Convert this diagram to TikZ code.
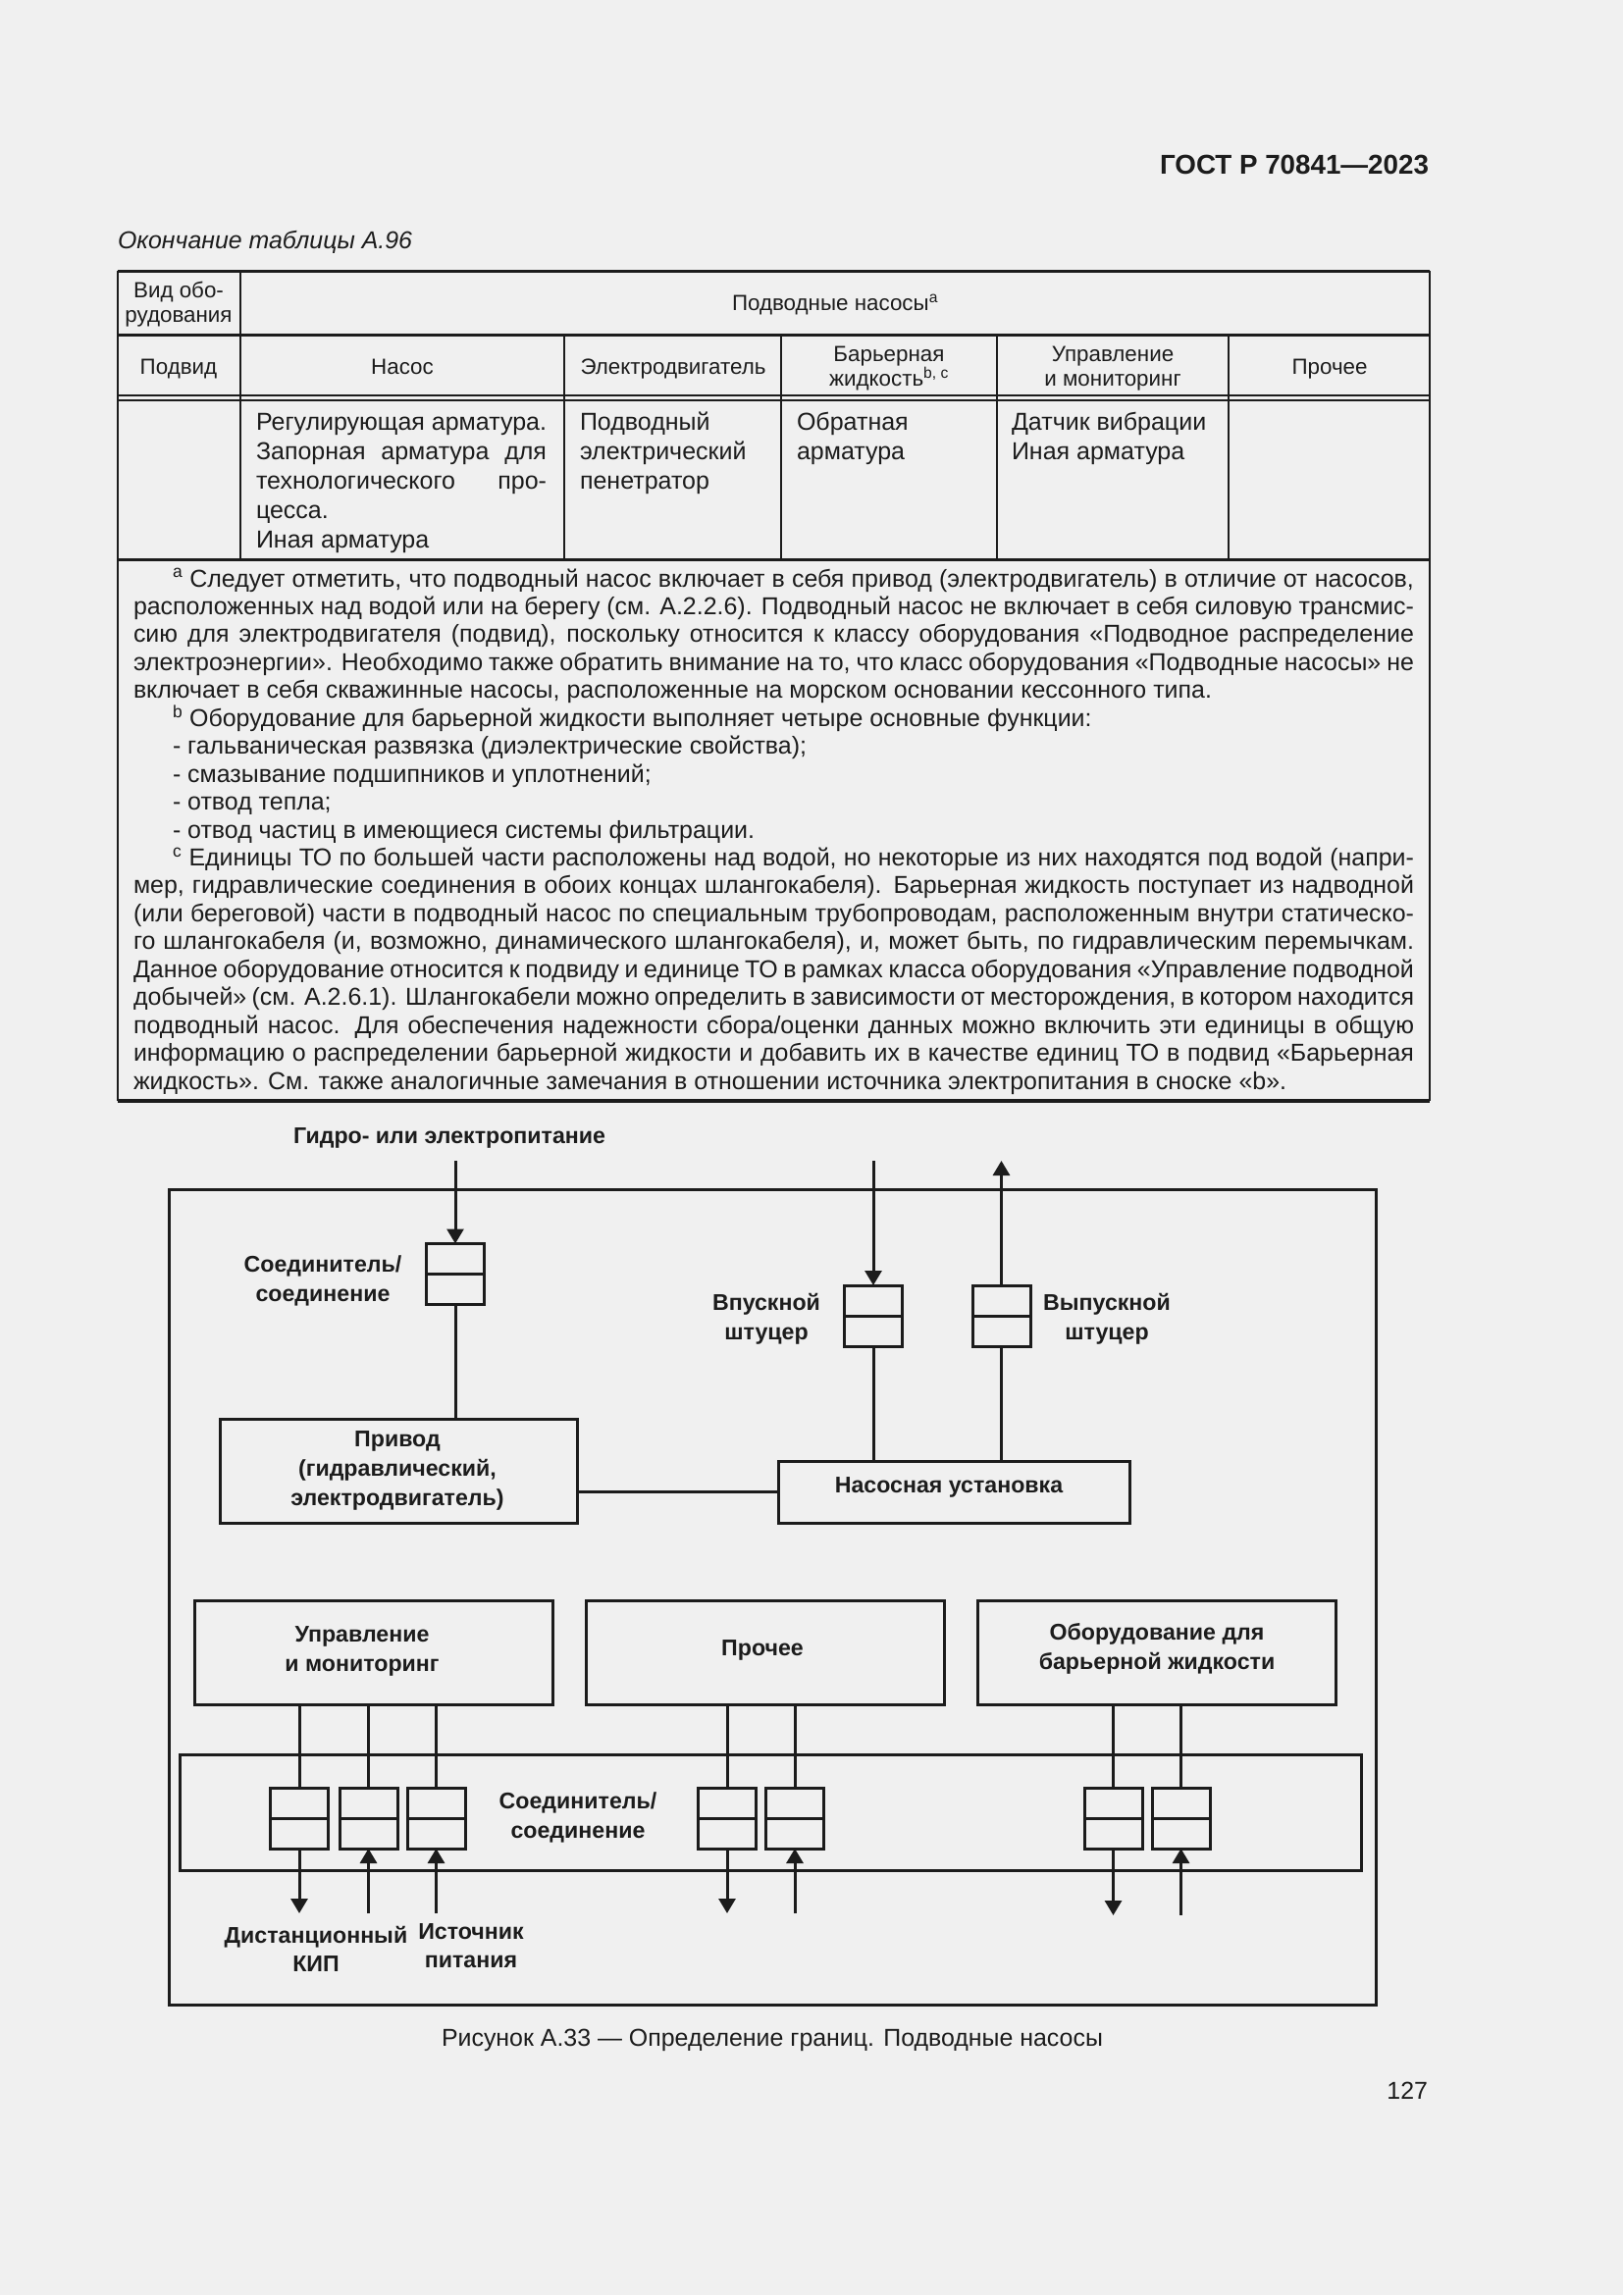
\documentclass[tikz,border=0pt]{standalone}
\usepackage{fontspec}
\setmainfont{Liberation Sans}
\usetikzlibrary{arrows.meta}
\definecolor{bgc}{RGB}{240,240,240}
\definecolor{ink}{RGB}{28,28,28}
\makeatletter
\newlength\calw
\newcommand\calsize[3]{%
  \settowidth\calw{\fontsize{10pt}{12pt}\selectfont #3}%
  \ifdim\calw<1pt \global\calw=100pt\fi
  \xdef#1{\strip@pt\dimexpr 10pt*\numexpr #2*65536\relax/\calw\relax}}
\makeatother
\newcommand\fnl[1]{\hbox to 1305pt{#1}}
\newcommand\jcl[1]{\hbox to 296pt{#1}}
\calsize\szNote{1099}{включает в себя скважинные насосы, расположенные на морском основании кессонного типа.}
\calsize\szCell{296}{Регулирующая арматура.}
\calsize\szHead{189}{Электродвигатель}
\calsize\szGost{274}{\bfseries ГОСТ Р 70841—2023}
\calsize\szIt{300}{\itshape Окончание таблицы А.96}
\calsize\szDiag{318}{\bfseries Гидро- или электропитание}
\calsize\szCap{674}{Рисунок А.33 — Определение границ. Подводные насосы}
\begin{document}
\begin{tikzpicture}[x=1pt,y=-1pt,
  every node/.style={inner sep=0pt,outer sep=0pt,text=ink},
  tv/.style={draw=ink,line width=2pt},
  th/.style={draw=ink,line width=3pt},
  tthin/.style={draw=ink,line width=1.6pt},
  hd/.style={font=\fontsize{\szHead}{25}\selectfont,anchor=base},
  cell/.style={font=\fontsize{\szCell}{30}\selectfont,anchor=base west},
  fnote/.style={font=\fontsize{\szNote}{28.45}\selectfont,anchor=base west},
  dlbl/.style={font=\fontsize{\szDiag}{30}\selectfont\bfseries,anchor=base},
  wire/.style={draw=ink,line width=3pt},
  arr/.style={wire,-{Triangle[length=15pt,width=17pt]}},
  blk/.style={draw=ink,line width=3pt,rectangle},
  conn/.style={draw=ink,line width=3pt,rectangle,minimum width=59pt,minimum height=62pt}]
\useasboundingbox (0,0) rectangle (1654,2339);
\fill[bgc] (0,0) rectangle (1654,2339);

% ---------- page header ----------
\node[anchor=base east,font=\fontsize{\szGost}{30}\selectfont\bfseries] (gost) at (1456,177) {ГОСТ Р 70841—2023};
\node[anchor=base west,font=\fontsize{\szIt}{30}\selectfont\itshape] (tcont) at (120,253) {Окончание таблицы А.96};

% ---------- table rules ----------
\draw[th] (120,276) -- (1457,276);
\draw[th] (120,341) -- (1457,341);
\draw[tthin] (120,403) -- (1457,403);
\draw[tthin] (120,408) -- (1457,408);
\draw[th] (120,570) -- (1457,570);
\draw[draw=ink,line width=3.5pt] (120,1122) -- (1457,1122);
\draw[tv] (120,276) -- (120,1122);
\draw[tv] (1457,276) -- (1457,1122);
\draw[tv] (245,276) -- (245,570);
\draw[tv] (575,341) -- (575,570);
\draw[tv] (796,341) -- (796,570);
\draw[tv] (1016,341) -- (1016,570);
\draw[tv] (1252,341) -- (1252,570);

% ---------- table header ----------
\node[hd] (h1a) at (182,303) {Вид обо-};
\node[hd] (h1b) at (182,328) {рудования};
\node[hd] (h1c) at (851,316) {Подводные насосы\textsuperscript{a}};
\node[hd] (h2a) at (182,381) {Подвид};
\node[hd] (h2b) at (410,381) {Насос};
\node[hd] (h2c) at (686,381) {Электродвигатель};
\node[hd] (h2d1) at (906,368) {Барьерная};
\node[hd] (h2d2) at (906,393) {жидкость\textsuperscript{b, c}};
\node[hd] (h2e1) at (1134,368) {Управление};
\node[hd] (h2e2) at (1134,393) {и мониторинг};
\node[hd] (h2f) at (1355,381) {Прочее};

% ---------- table body ----------
\node[cell] (r3a) at (261,438) {\vtop{\lineskiplimit=-\maxdimen
  \hbox{Регулирующая арматура.}
  \jcl{Запорная арматура для}
  \jcl{технологического про-}
  \hbox{цесса.}
  \hbox{Иная арматура}}};
\node[cell] (r3b) at (591,438) {\vtop{\lineskiplimit=-\maxdimen
  \hbox{Подводный}\hbox{электрический}\hbox{пенетратор}}};
\node[cell] (r3c) at (812,438) {\vtop{\lineskiplimit=-\maxdimen
  \hbox{Обратная}\hbox{арматура}}};
\node[cell] (r3d) at (1031,438) {\vtop{\lineskiplimit=-\maxdimen
  \hbox{Датчик вибрации}\hbox{Иная арматура}}};

% ---------- footnotes ----------
\node[fnote] (notes) at (136,598) {\vtop{\lineskiplimit=-\maxdimen
\fnl{\hskip40pt\textsuperscript{a} Следует отметить, что подводный насос включает в себя привод (электродвигатель) в отличие от насосов,}
\fnl{расположенных над водой или на берегу (см. А.2.2.6). Подводный насос не включает в себя силовую трансмис-}
\fnl{сию для электродвигателя (подвид), поскольку относится к классу оборудования «Подводное распределение}
\fnl{электроэнергии». Необходимо также обратить внимание на то, что класс оборудования «Подводные насосы» не}
\hbox{включает в себя скважинные насосы, расположенные на морском основании кессонного типа.}
\hbox{\hskip40pt\textsuperscript{b} Оборудование для барьерной жидкости выполняет четыре основные функции:}
\hbox{\hskip40pt- гальваническая развязка (диэлектрические свойства);}
\hbox{\hskip40pt- смазывание подшипников и уплотнений;}
\hbox{\hskip40pt- отвод тепла;}
\hbox{\hskip40pt- отвод частиц в имеющиеся системы фильтрации.}
\fnl{\hskip40pt\textsuperscript{c} Единицы ТО по большей части расположены над водой, но некоторые из них находятся под водой (напри-}
\fnl{мер, гидравлические соединения в обоих концах шлангокабеля). Барьерная жидкость поступает из надводной}
\fnl{(или береговой) части в подводный насос по специальным трубопроводам, расположенным внутри статическо-}
\fnl{го шлангокабеля (и, возможно, динамического шлангокабеля), и, может быть, по гидравлическим перемычкам.}
\fnl{Данное оборудование относится к подвиду и единице ТО в рамках класса оборудования «Управление подводной}
\fnl{добычей» (см. А.2.6.1). Шлангокабели можно определить в зависимости от месторождения, в котором находится}
\fnl{подводный насос. Для обеспечения надежности сбора/оценки данных можно включить эти единицы в общую}
\fnl{информацию о распределении барьерной жидкости и добавить их в качестве единиц ТО в подвид «Барьерная}
\hbox{жидкость». См. также аналогичные замечания в отношении источника электропитания в сноске «b».}}};

% ---------- diagram ----------
\draw[wire] (172.5,1212.5) rectangle (1402,2043);

\node[conn] (c0) at (464,1298.5) {};
\node[conn] (ci) at (890,1341) {};
\node[conn] (co) at (1020.5,1341) {};
\draw[wire] (c0.west) -- (c0.east);
\draw[wire] (ci.west) -- (ci.east);
\draw[wire] (co.west) -- (co.east);

\node[blk,minimum width=364pt,minimum height=106pt] (priv) at (406,1499) {};
\node[blk,minimum width=358pt,minimum height=63pt] (nas) at (972,1520.5) {};

\coordinate (pwtop) at (464,1183);
\coordinate (intop) at (890,1183);
\coordinate (outtop) at (1020.5,1183);
\draw[arr] (pwtop) -- (c0.north);
\draw[arr] (intop) -- (ci.north);
\draw[arr] (co.north) -- (outtop);
\draw[wire] (c0.south) -- (c0.south |- priv.north);
\draw[wire] (ci.south) -- (ci.south |- nas.north);
\draw[wire] (co.south) -- (co.south |- nas.north);
\draw[wire] (priv.east |- nas.west) -- (nas.west);

\node[dlbl] (tpow) at (458,1165) {Гидро- или электропитание};
\node[dlbl] (tc0a) at (329,1296) {Соединитель/};
\node[dlbl] (tc0b) at (329,1326) {соединение};
\node[dlbl] (tina) at (781,1335) {Впускной};
\node[dlbl] (tinb) at (781,1365) {штуцер};
\node[dlbl] (touta) at (1128,1335) {Выпускной};
\node[dlbl] (toutb) at (1128,1365) {штуцер};
\node[dlbl] (tpra) at (405,1474) {Привод};
\node[dlbl] (tprb) at (405,1504) {(гидравлический,};
\node[dlbl] (tprc) at (405,1534) {электродвигатель)};
\node[dlbl] (tnas) at (967,1521) {Насосная установка};

% lower part
\node[blk,minimum width=365pt,minimum height=106pt] (upr) at (380.5,1684) {};
\node[blk,minimum width=365pt,minimum height=106pt] (pro) at (779.5,1684) {};
\node[blk,minimum width=365pt,minimum height=106pt] (obo) at (1178.5,1684) {};
\node[blk,minimum width=1204pt,minimum height=118pt] (strip) at (785,1847) {};

\node[conn] (k1) at (305,1853) {};
\node[conn] (k2) at (375.5,1853) {};
\node[conn] (k3) at (444.5,1853) {};
\node[conn] (p1) at (741,1853) {};
\node[conn] (p2) at (810,1853) {};
\node[conn] (b1) at (1134.5,1853) {};
\node[conn] (b2) at (1203.5,1853) {};
\foreach \n in {k1,k2,k3,p1,p2,b1,b2} {\draw[wire] (\n.west) -- (\n.east);}

\draw[wire] (k1.north |- upr.south) -- (k1.north);
\draw[wire] (k2.north |- upr.south) -- (k2.north);
\draw[wire] (k3.north |- upr.south) -- (k3.north);
\draw[wire] (p1.north |- pro.south) -- (p1.north);
\draw[wire] (p2.north |- pro.south) -- (p2.north);
\draw[wire] (b1.north |- obo.south) -- (b1.north);
\draw[wire] (b2.north |- obo.south) -- (b2.north);

\coordinate (k1e) at (305,1950);
\coordinate (k2e) at (375.5,1950);
\coordinate (k3e) at (444.5,1950);
\coordinate (p1e) at (741,1950);
\coordinate (p2e) at (810,1950);
\coordinate (b1e) at (1134.5,1952);
\coordinate (b2e) at (1203.5,1952);
\draw[arr] (k1.south) -- (k1e);
\draw[arr] (k2e) -- (k2.south);
\draw[arr] (k3e) -- (k3.south);
\draw[arr] (p1.south) -- (p1e);
\draw[arr] (p2e) -- (p2.south);
\draw[arr] (b1.south) -- (b1e);
\draw[arr] (b2e) -- (b2.south);

\node[dlbl] (tupra) at (369,1673) {Управление};
\node[dlbl] (tuprb) at (369,1703) {и мониторинг};
\node[dlbl] (tpro) at (777,1687) {Прочее};
\node[dlbl] (toboa) at (1179,1671) {Оборудование для};
\node[dlbl] (tobob) at (1179,1701) {барьерной жидкости};
\node[dlbl] (tsta) at (589,1843) {Соединитель/};
\node[dlbl] (tstb) at (589,1873) {соединение};
\node[dlbl] (tkipa) at (322,1980) {Дистанционный};
\node[dlbl] (tkipb) at (322,2009) {КИП};
\node[dlbl] (tsrca) at (480,1976) {Источник};
\node[dlbl] (tsrcb) at (480,2005) {питания};

% ---------- caption and page number ----------
\node[anchor=base,font=\fontsize{\szCap}{30}\selectfont] (cap) at (787,2085) {Рисунок А.33 — Определение границ. Подводные насосы};
\node[anchor=base east,font=\fontsize{\szCap}{30}\selectfont] (pnum) at (1455,2139) {127};
\end{tikzpicture}
\end{document}
